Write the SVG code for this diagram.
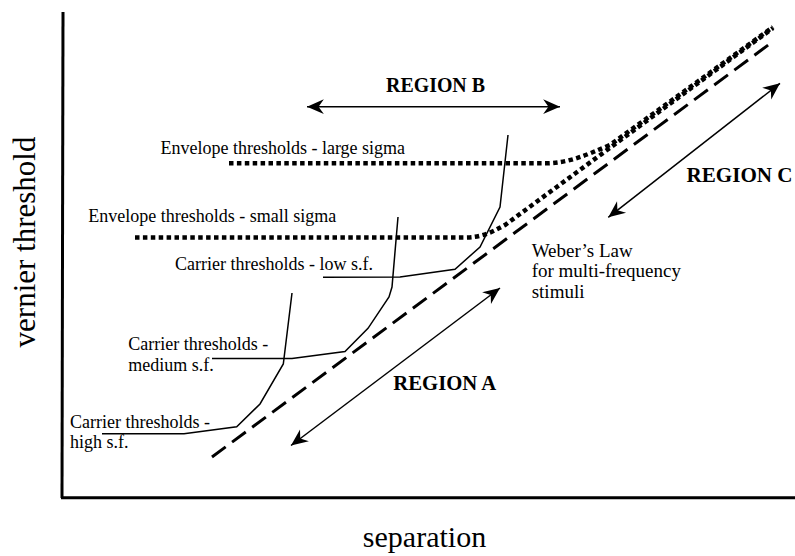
<svg xmlns="http://www.w3.org/2000/svg" width="795" height="556" viewBox="0 0 795 556">
  <style>
    text { font-family: "Liberation Serif", "Times New Roman", serif; fill: #000; }
    .lbl { font-size: 18px; }
    .reg { font-size: 20px; font-weight: bold; }
    .ax { font-size: 31px; }
    .axis { stroke: #000; stroke-width: 3; fill: none; }
    .thin { stroke: #000; stroke-width: 1.5; fill: none; stroke-linejoin: miter; }
    .dash { stroke: #000; stroke-width: 3; fill: none; stroke-dasharray: 17 8; }
    .dot { stroke: #000; stroke-width: 4.5; fill: none; stroke-dasharray: 4.5 3.4; }
    .arr { stroke: #000; stroke-width: 1.5; fill: none; marker-start: url(#ah); marker-end: url(#ah); }
  </style>
  <defs>
    <marker id="ah" markerUnits="userSpaceOnUse" markerWidth="20" markerHeight="20" refX="0" refY="0" viewBox="-17 -8 19 16" orient="auto-start-reverse">
      <path d="M0,0 L-16,-7 L-11,0 L-16,7 Z" fill="#000"/>
    </marker>
  </defs>
  <rect width="795" height="556" fill="#fff"/>

  <g id="axes">
    <path class="axis" d="M63,12 L62,498"/>
    <path class="axis" d="M61,497.8 L795,497.8"/>
    <text class="ax" transform="translate(35,242) rotate(-90)" text-anchor="middle">vernier threshold</text>
    <text class="ax" x="424.5" y="547" text-anchor="middle" style="font-size:30px">separation</text>
  </g>

  <g id="connectors">
    <path id="weber-line" class="dash" d="M212,457 L771,43"/>
    <path id="env-large" class="dot" d="M229,163.3 H545 C570,163 586,155 610,145 L773,27"/>
    <path id="env-small" class="dot" d="M135,237.5 H465 C482,237.5 492,232 505,225 L773,28"/>
    <path id="car-low" class="thin" d="M323,277.3 L400,277 L455,269.3 L480,247 L500,207 L508,135"/>
    <path id="car-med" class="thin" d="M212,358.5 L292,358.5 L345,351.5 L368,328.3 L389,297 L392,287 L398,217"/>
    <path id="car-high" class="thin" d="M102,433.8 L184,433.8 L236.7,426.7 L260,404 L283.3,364 L292,293"/>
    <path id="arrow-a" class="arr" d="M291,445.5 L500,288"/>
    <path id="arrow-b" class="arr" d="M307,106.7 L560,106.7"/>
    <path id="arrow-c" class="arr" d="M608.3,217.3 L780,83.3"/>
  </g>

  <g id="region-b"><text class="reg" x="386" y="92" textLength="99" lengthAdjust="spacingAndGlyphs">REGION B</text></g>
  <g id="region-a"><text class="reg" x="393.3" y="390" textLength="103" lengthAdjust="spacingAndGlyphs">REGION A</text></g>
  <g id="region-c"><text class="reg" x="686.5" y="181.7" textLength="106" lengthAdjust="spacingAndGlyphs">REGION C</text></g>

  <g id="label-env-large"><text class="lbl" x="160.5" y="154">Envelope thresholds - large sigma</text></g>
  <g id="label-env-small"><text class="lbl" x="88.3" y="222">Envelope thresholds - small sigma</text></g>
  <g id="label-car-low"><text class="lbl" x="175" y="270">Carrier thresholds - low s.f.</text></g>
  <g id="label-car-med">
    <text class="lbl" x="128.3" y="350">Carrier thresholds -</text>
    <text class="lbl" x="128.3" y="370.7">medium s.f.</text>
  </g>
  <g id="label-car-high">
    <text class="lbl" x="70" y="428.3">Carrier thresholds -</text>
    <text class="lbl" x="70" y="448.3">high s.f.</text>
  </g>
  <g id="label-weber">
    <text class="lbl" x="531.7" y="256.7" style="font-size:19px">Weber’s Law</text>
    <text class="lbl" x="531.7" y="277" style="font-size:19px">for multi-frequency</text>
    <text class="lbl" x="531.7" y="298" style="font-size:19px">stimuli</text>
  </g>
</svg>
